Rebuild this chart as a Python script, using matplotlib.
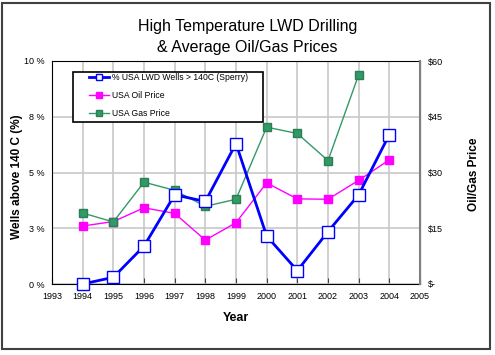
import matplotlib
matplotlib.use("Agg")
import matplotlib.pyplot as plt
from matplotlib.patches import Rectangle
from matplotlib.lines import Line2D

plt.rcParams['font.family'] = ['Liberation Sans', 'DejaVu Sans']

years = [1994, 1995, 1996, 1997, 1998, 1999, 2000, 2001, 2002, 2003, 2004]
wells_pct = [0.0, 0.3, 1.7, 4.0, 3.7, 6.3, 2.15, 0.6, 2.35, 4.0, 6.7]
oil_price = [15.6, 16.8, 20.5, 19.0, 11.8, 16.5, 27.2, 22.9, 22.8, 27.9, 33.4]
gas_years = [1994, 1995, 1996, 1997, 1998, 1999, 2000, 2001, 2002, 2003]
gas_price = [19.1, 16.7, 27.4, 25.2, 20.9, 22.8, 42.2, 40.5, 33.2, 56.3]

left_ticks = [0, 2.5, 5, 7.5, 10]
left_labels = ['0 %', '3 %', '5 %', '8 %', '10 %']
right_ticks = [0, 15, 30, 45, 60]
right_labels = ['$-', '$15', '$30', '$45', '$60']

W, H = 495, 355
fig = plt.figure(figsize=(W / 100, H / 100), dpi=100)
ax = fig.add_axes([52/W, 1 - 284/H, 368/W, 223/H])
ax2 = ax.twinx()

ax.set_xlim(1993, 2005)
ax.set_ylim(0, 10)
ax2.set_ylim(0, 60)
ax.set_xticks(range(1993, 2006))
ax.set_yticks(left_ticks)
ax.set_yticklabels(left_labels)
ax2.set_yticks(right_ticks)
ax2.set_yticklabels(right_labels)

ax.grid(True, color='#c8c8c8', linewidth=1.2)
ax.set_axisbelow(True)
ax.tick_params(axis='both', labelsize=6.5, length=0, pad=5)
ax.tick_params(axis='x', direction='in', length=4, color='#404040', pad=6)
ax2.tick_params(axis='y', labelsize=6.5, length=0, pad=6)

for s in ['left', 'bottom', 'top']:
    ax.spines[s].set_color('black')
ax2.spines['right'].set_color('#808080')
ax2.spines['right'].set_linewidth(1.5)
ax2.spines['left'].set_visible(False)
ax2.spines['top'].set_visible(False)
ax2.spines['bottom'].set_visible(False)

# price lines on right axis
ax2.plot(years, oil_price, color='#ff00ff', linewidth=1, marker='s',
         markersize=5.5, markerfacecolor='#ff00ff', markeredgecolor='#ff00ff', clip_on=False)
ax2.plot(gas_years, gas_price, color='#339966', linewidth=1, marker='s',
         markersize=5.5, markerfacecolor='#339966', markeredgecolor='#2a7f55', clip_on=False)
# wells series (left axis %), scaled onto the price axis so it draws on top
wells_on_right = [w * 6 for w in wells_pct]
ax2.plot(years, wells_on_right, color='#0000ff', linewidth=2, marker='s',
         markersize=8, markerfacecolor='white', markeredgecolor='#0000ff',
         markeredgewidth=1, clip_on=False, zorder=5)

# legend: box drawn by hand, entries from proxies with smaller markers
h_wells = Line2D([], [], color='#0000ff', linewidth=2, marker='s', markersize=5,
                 markerfacecolor='white', markeredgecolor='#0000ff', markeredgewidth=1)
h_oil = Line2D([], [], color='#ff00ff', linewidth=1, marker='s', markersize=5,
               markerfacecolor='#ff00ff', markeredgecolor='#ff00ff')
h_gas = Line2D([], [], color='#339966', linewidth=1, marker='s', markersize=5,
               markerfacecolor='#339966', markeredgecolor='#2a7f55')
ax2.add_patch(Rectangle(((73-52)/368, 1 - (122-61)/223), (263-73)/368, 50/223,
                        transform=ax2.transAxes, facecolor='white', edgecolor='black',
                        linewidth=1.2, zorder=6))
leg = ax2.legend(handles=[h_wells, h_oil, h_gas],
                 labels=['% USA LWD Wells > 140C (Sperry)', 'USA Oil Price', 'USA Gas Price'],
                 loc='upper left', bbox_to_anchor=((89-52)/368, 1 - (73-61)/223),
                 frameon=False, fontsize=6.2, labelspacing=1.05, handlelength=2.3,
                 borderpad=0, borderaxespad=0, handletextpad=0.4)
leg.set_zorder(7)

ax.set_xlabel('Year', fontsize=9, fontweight='bold')
ax.xaxis.set_label_coords(0.5, (284-312)/223)
ax.set_ylabel('Wells above 140 C (%)', fontsize=8.5, fontweight='bold')
ax.yaxis.set_label_coords((23-52)/368, 0.48)
ax2.set_ylabel('Oil/Gas Price', fontsize=8.5, fontweight='bold')
ax2.yaxis.set_label_coords((468-52)/368, 0.49)

fig.text(0.5, 1 - 37/H, 'High Temperature LWD Drilling\n& Average Oil/Gas Prices',
         ha='center', va='center', fontsize=11.5, linespacing=1.45)

fig.patches.append(Rectangle((2/W, 1 - 349/H), 488/W, 346/H, transform=fig.transFigure,
                             fill=False, edgecolor='#404040', linewidth=1.5))

fig.savefig('out.png', dpi=100)
